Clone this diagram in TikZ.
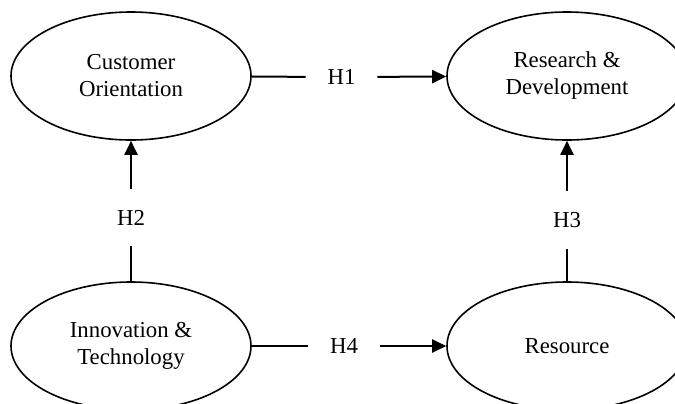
\documentclass[tikz,border=0pt]{standalone}
\usepackage{fontspec}
\setmainfont{Liberation Serif}
\usetikzlibrary{shapes.geometric,arrows.meta}
\begin{document}
\begin{tikzpicture}[x=0.5pt,y=-0.5pt,
  ell/.style={draw,line width=0.8pt,ellipse,minimum width=120pt,minimum height=64pt,inner sep=0pt,align=center,font=\fontsize{11.4}{13.5}\selectfont},
  hlab/.style={inner sep=0pt,minimum width=35.5pt,minimum height=14pt,font=\fontsize{11.4}{13}\selectfont},
  vlab/.style={inner sep=0pt,minimum width=14pt,minimum height=28.5pt,font=\fontsize{11.4}{13}\selectfont},
  ln/.style={line width=1pt},
  arr/.style={ln,-{Triangle[length=7pt,width=6.5pt]}}]
\useasboundingbox (0,0) rectangle (675,403);
\clip (0,0) rectangle (675,403);
\node[ell] (co) at (131,76) {Customer\\Orientation};
\node[ell] (rd) at (567,76) {Research \&\\Development};
\node[ell] (it) at (131,346) {Innovation \&\\Technology};
\node[ell] (rs) at (567,346) {Resource};
\node[hlab] (h1) at (341.5,77) {H1};
\node[hlab] (h4) at (344,346) {H4};
\node[vlab] (h2) at (131,217.5) {H2};
\node[vlab] (h3) at (567,220) {H3};
\draw[ln] (co) -- (h1);
\draw[arr] (h1) -- (rd);
\draw[ln] (it) -- (h4);
\draw[arr] (h4) -- (rs);
\draw[ln] (it) -- (h2);
\draw[arr] (h2) -- (co);
\draw[ln] (rs) -- (h3);
\draw[arr] (h3) -- (rd);
\end{tikzpicture}
\end{document}
